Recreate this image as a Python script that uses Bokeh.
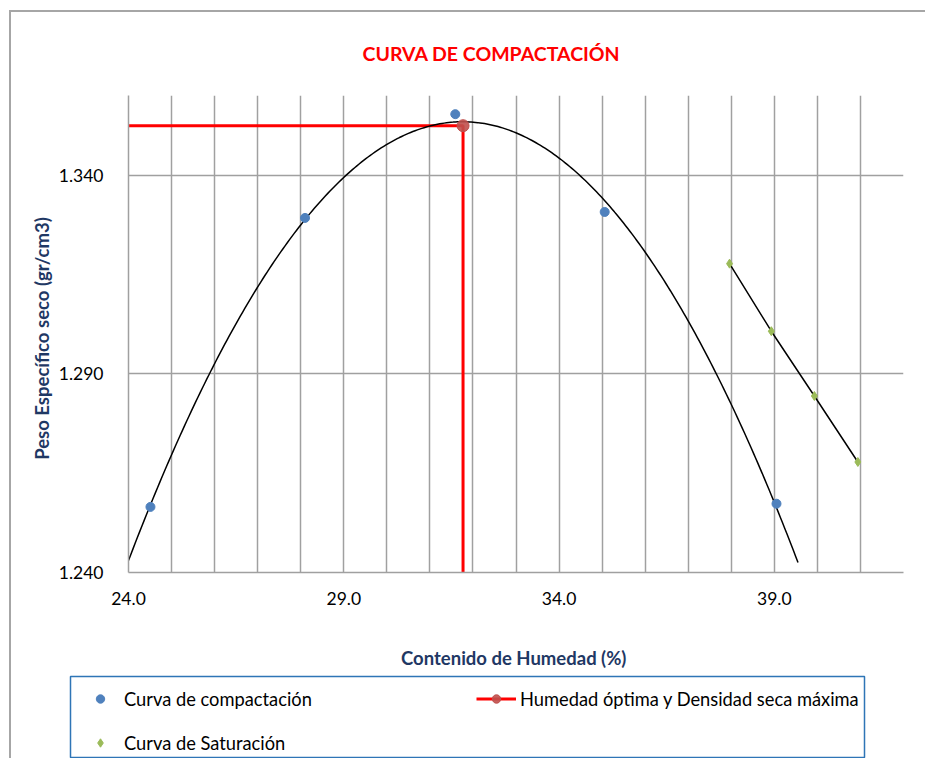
import numpy as np
from bokeh.plotting import figure
from bokeh.models import FixedTicker, Legend, LegendItem, NumeralTickFormatter
from bokeh.embed import file_html
from bokeh.resources import INLINE

# ---- data ----
comp_x = [24.51, 28.10, 31.59, 35.06, 39.05]          # Contenido de humedad (%)
comp_y = [1.2565, 1.3292, 1.3553, 1.3307, 1.2573]     # Peso especifico seco (gr/cm3)

sat_x = [37.96, 38.93, 39.93, 40.94]
sat_y = [1.3177, 1.3007, 1.2844, 1.2678]

opt_x = 31.77      # humedad optima
opt_y = 1.3524     # densidad seca maxima

trend_x_start = 24.0
trend_x_end = 39.55

x_min, x_max = 24.0, 42.0
y_min, y_max = 1.24, 1.36
x_label_ticks = [24.0, 29.0, 34.0, 39.0]
x_grid_ticks = list(range(24, 43))
y_ticks = [1.24, 1.29, 1.34]

labels = ["Curva de compactación", "Curva de Saturación", "Humedad óptima y Densidad seca máxima"]

# polynomial trend line (order 2) fitted to the compaction points
coef = np.polyfit(comp_x, comp_y, 2)
trend_x = np.linspace(trend_x_start, trend_x_end, 300)
trend_y = np.polyval(coef, trend_x)

FONT = "Lato"
GRID = "#a0a0a0"
NAVY = "#1f3864"
BLUE = "#4f81bd"
GREEN = "#9bbb59"
DKRED = "#c0504d"
EDGE = "#a6a6a6"

p = figure(frame_width=775, frame_height=477, x_range=(x_min, x_max), y_range=(y_min, y_max),
           output_backend="svg", toolbar_location=None,
           min_border_left=128, min_border_top=95, min_border_right=22, min_border_bottom=98)
p.styles = {"background": f"linear-gradient({EDGE}, {EDGE}) 9px 10px / 2px calc(100% - 10px) no-repeat, "
                          f"linear-gradient({EDGE}, {EDGE}) 9px 10px / calc(100% - 9px) 2px no-repeat, #ffffff"}
p.border_fill_alpha = 0
p.background_fill_color = "#ffffff"
p.outline_line_color = None

# title
p.title.text = "CURVA DE COMPACTACIÓN"
p.title.text_color = "#ff0000"
p.title.text_font = FONT
p.title.text_font_style = "bold"
p.title.text_font_size = "19.5px"
p.title.align = "left"
p.title.offset = 234
p.title.standoff = 61

# axes
p.xaxis.ticker = FixedTicker(ticks=x_label_ticks)
p.yaxis.ticker = FixedTicker(ticks=y_ticks)
p.xaxis.formatter = NumeralTickFormatter(format="0.0")
p.yaxis.formatter = NumeralTickFormatter(format="0.000")
for ax in (p.xaxis, p.yaxis):
    ax.major_tick_line_color = None
    ax.minor_tick_line_color = None
    ax.axis_line_color = GRID
    ax.axis_line_width = 1.5
    ax.major_label_text_font = FONT
    ax.major_label_text_font_size = "17.5px"
    ax.major_label_text_color = "#000000"
    ax.axis_label_text_font = FONT
    ax.axis_label_text_font_size = "18.5px"
    ax.axis_label_text_font_style = "bold"
    ax.axis_label_text_color = NAVY
p.xaxis.axis_label = "Contenido de Humedad  (%)"
p.yaxis.axis_label = "Peso  Específico seco  (gr/cm3)"
p.xaxis.major_label_standoff = 13
p.xaxis.axis_label_standoff = 39
p.yaxis.major_label_standoff = 19
p.yaxis.axis_label_standoff = 3

p.xgrid.ticker = FixedTicker(ticks=x_grid_ticks)
p.ygrid.ticker = FixedTicker(ticks=y_ticks)
for g in (p.xgrid, p.ygrid):
    g.grid_line_color = GRID
    g.grid_line_width = 1.5


def draw_series(fig):
    """Draw all series on a figure; returns the renderers used by the legend."""
    r_opt_line = fig.line([x_min, opt_x, opt_x], [opt_y, opt_y, y_min], line_color="#ff0000", line_width=3)
    fig.line(trend_x, trend_y, line_color="#000000", line_width=1.5)
    fig.line(sat_x, sat_y, line_color="#000000", line_width=1.5)
    r_sat = fig.scatter(sat_x, sat_y, marker="diamond", size=9, fill_color=GREEN, line_color=GREEN)
    r_comp = fig.scatter(comp_x, comp_y, marker="circle", size=9, fill_color=BLUE, line_color=BLUE)
    r_opt_pt = fig.scatter([opt_x], [opt_y], marker="circle", size=12, fill_color=DKRED,
                           line_color=DKRED, fill_alpha=0.9)
    return r_comp, r_sat, r_opt_line, r_opt_pt


draw_series(p)

# ---- legend panel: a second figure whose frame is the legend box ----
lg = figure(frame_width=794, frame_height=81, x_range=(0, 1), y_range=(0, 1),
            output_backend="svg", toolbar_location=None,
            x_axis_location=None, y_axis_location=None,
            min_border_left=70, min_border_right=61, min_border_top=5, min_border_bottom=1)
lg.styles = {"background": f"linear-gradient({EDGE}, {EDGE}) 9px 0px / 2px 100% no-repeat, #ffffff"}
lg.grid.visible = False
lg.border_fill_alpha = 0
lg.background_fill_color = "#ffffff"
lg.outline_line_color = "#2e75b6"
lg.outline_line_width = 1.5

# same series on the legend figure (they fall outside its 0..1 ranges, so only the legend shows them)
r_comp, r_sat, r_opt_line, r_opt_pt = draw_series(lg)

legend = Legend(items=[
    LegendItem(label=labels[0], renderers=[r_comp]),
    LegendItem(label=labels[1], renderers=[r_sat]),
    LegendItem(label=labels[2], renderers=[r_opt_line, r_opt_pt]),
], location=(10, 3.5), orientation="vertical", nrows=2)
legend.glyph_width = 40
legend.glyph_height = 21
legend.label_standoff = 4
legend.label_width = 330
legend.spacing = 22
legend.padding = 0
legend.margin = 0
legend.label_text_font = FONT
legend.label_text_font_size = "18.3px"
legend.label_text_color = "#000000"
legend.border_line_color = None
legend.background_fill_alpha = 0
lg.add_layout(legend)

open("out.html", "w").write(file_html([p, lg], INLINE))
